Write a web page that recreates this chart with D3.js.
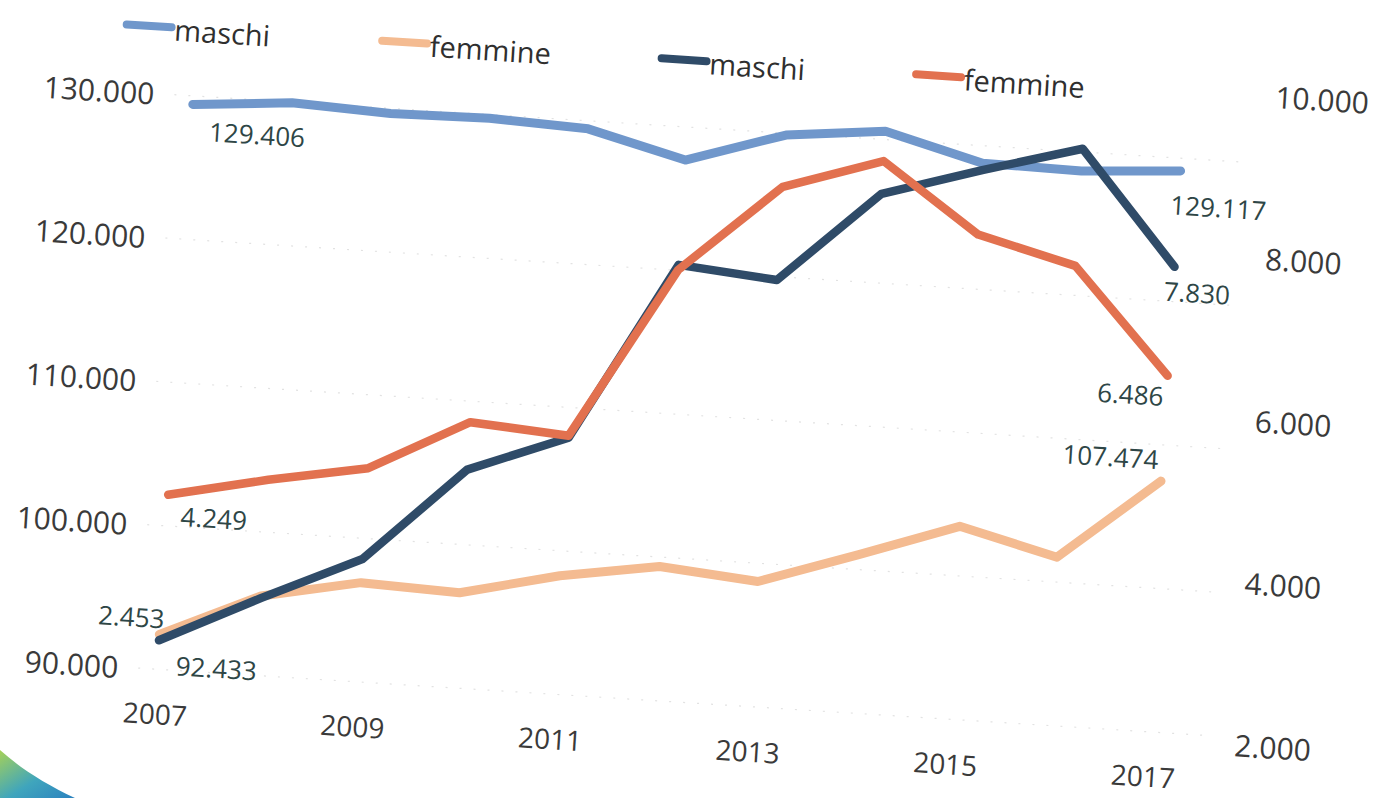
<!DOCTYPE html>
<html><head><meta charset="utf-8">
<script src="https://cdn.jsdelivr.net/npm/d3@7"></script>
<style>html,body{margin:0;padding:0;background:#fff;} svg{display:block;}</style>
</head><body><svg id="c" width="1377" height="798"></svg>
<script>
// ---- data ----
const years = [2007, 2008, 2009, 2010, 2011, 2012, 2013, 2014, 2015, 2016, 2017];
const yearTicks = [2007, 2009, 2011, 2013, 2015, 2017];
const leftTicks = [90000, 100000, 110000, 120000, 130000];
const rightTicks = [2000, 4000, 6000, 8000, 10000];
const seriesNames = ["maschi", "femmine", "maschi", "femmine"];
// left axis series
const maschiTot = [129406, 129950, 129640, 129740, 129440, 127700, 129880, 130580, 128780, 128680, 129117];
const femmineTot = [92433, 95540, 96910, 96640, 98260, 99340, 98730, 101040, 103450, 101730, 107474];
// right axis series
const maschiStr = [2453, 3050, 3610, 4790, 5260, 7470, 7360, 8500, 8870, 9210, 7830];
const femmineStr = [4249, 4510, 4730, 5375, 5285, 7410, 8510, 8905, 8075, 7765, 6486];

const FONT = "'Open Sans', 'Noto Sans', sans-serif";
const it = d3.formatLocale({decimal: ",", thousands: ".", grouping: [3], currency: ["€", ""]});
const fmt = it.format(",d");

const svg = d3.select("#c");

// scan decoration in the lower-left corner
const defs = svg.append("defs");
const gr = defs.append("linearGradient").attr("id", "blob").attr("x1", "0").attr("y1", "0").attr("x2", "1").attr("y2", "1");
gr.append("stop").attr("offset", "0%").attr("stop-color", "#9ccc45");
gr.append("stop").attr("offset", "55%").attr("stop-color", "#2a9bb5");
gr.append("stop").attr("offset", "100%").attr("stop-color", "#1474b8");
svg.append("path").attr("d", "M0,750 C20,768 45,784 75,798 L0,798 Z").attr("fill", "url(#blob)").attr("opacity", 0.9);

const g = svg.append("g").attr("transform", "rotate(3.612)");

const x = d3.scaleLinear().domain([2007, 2017]).range([199, 1189]);
const yL = d3.scaleLinear().domain([90000, 130000]).range([658, 83.5]);
const yR = d3.scaleLinear().domain([2000, 10000]).range([665.8, 16.1]);

// faint dotted gridlines
g.append("g").selectAll("line").data(leftTicks).join("line")
  .attr("x1", 180).attr("x2", 1250)
  .attr("y1", d => yL(d)).attr("y2", d => yL(d))
  .attr("stroke", "#e2e2e2").attr("stroke-width", 1.2).attr("stroke-dasharray", "2,12");

function styleAxis(sel, anchor, size) {
  sel.attr("font-size", null).attr("font-family", null);
  sel.select(".domain").remove();
  sel.selectAll(".tick line").remove();
  sel.selectAll("text")
    .attr("font-family", FONT).attr("font-size", size).attr("fill", "#3a3a3a")
    .attr("text-anchor", anchor).attr("dy", "0.36em").attr("y", 0);
}

g.append("g").attr("transform", "translate(160,0)")
  .call(d3.axisLeft(yL).tickValues(leftTicks).tickFormat(fmt).tickSize(0).tickPadding(0))
  .call(s => styleAxis(s, "end", 30));

g.append("g").attr("transform", "translate(1279,0)")
  .call(d3.axisRight(yR).tickValues(rightTicks).tickFormat(fmt).tickSize(0).tickPadding(0))
  .call(s => styleAxis(s, "start", 30));

g.append("g").attr("transform", "translate(0,703)")
  .call(d3.axisBottom(x).tickValues(yearTicks).tickFormat(d3.format("d")).tickSize(0).tickPadding(0))
  .call(s => styleAxis(s, "middle", 28));

// lines
const series = [
  {name: seriesNames[0], values: maschiTot, scale: yL, color: "#7097cb", w: 9},
  {name: seriesNames[1], values: femmineTot, scale: yL, color: "#f4bb91", w: 9},
  {name: seriesNames[2], values: maschiStr, scale: yR, color: "#2f4b68", w: 8.5},
  {name: seriesNames[3], values: femmineStr, scale: yR, color: "#e2714f", w: 8.5}
];

series.forEach(s => {
  const line = d3.line().x((d, i) => x(years[i])).y(d => s.scale(d));
  g.append("path").attr("d", line(s.values))
    .attr("fill", "none").attr("stroke", s.color).attr("stroke-width", s.w)
    .attr("stroke-linejoin", "round").attr("stroke-linecap", "round");
});

// data labels (first and last points), offsets in px
const labelOffsets = [
  [[66, 26.4], [40, 34.6]],
  [[59, 30.5], [-52, -21]],
  [[-29, -21.5], [24, 25]],
  [[47, 21], [-36, 21]]
];
series.forEach((s, si) => {
  [0, s.values.length - 1].forEach((idx, k) => {
    const off = labelOffsets[si][k];
    g.append("text")
      .attr("x", x(years[idx]) + off[0])
      .attr("y", s.scale(s.values[idx]) + off[1])
      .attr("text-anchor", "middle").attr("dy", "0.36em")
      .attr("font-family", FONT).attr("font-size", 26).attr("fill", "#2e4646")
      .text(fmt(s.values[idx]));
  });
});

// legend
const legendStarts = [128, 384, 664, 919];
const leg = g.append("g");
series.forEach((s, i) => {
  const x0 = legendStarts[i];
  leg.append("line").attr("x1", x0).attr("x2", x0 + 45).attr("y1", 16.5).attr("y2", 16.5)
    .attr("stroke", s.color).attr("stroke-width", 8).attr("stroke-linecap", "round");
  leg.append("text").attr("x", x0 + 48).attr("y", 29.5)
    .attr("font-family", FONT).attr("font-size", 29).attr("fill", "#2f2f2f")
    .text(s.name);
});
</script></body></html>
